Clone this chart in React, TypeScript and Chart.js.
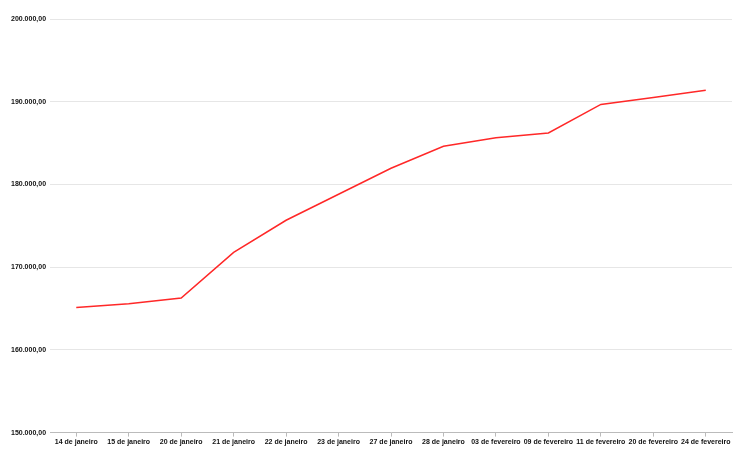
import React, { useEffect, useRef } from "react";
import { Chart, registerables } from "chart.js";

Chart.register(...registerables);

const categories = [
  "14 de janeiro",
  "15 de janeiro",
  "20 de janeiro",
  "21 de janeiro",
  "22 de janeiro",
  "23 de janeiro",
  "27 de janeiro",
  "28 de janeiro",
  "03 de fevereiro",
  "09 de fevereiro",
  "11 de fevereiro",
  "20 de fevereiro",
  "24 de fevereiro",
];

const values = [
  165130, 165580, 166260, 171790, 175670, 178810, 181960, 184620, 185630,
  186230, 189670, 190520, 191400,
];

const yMin = 150000;
const yMax = 200000;
const yStep = 10000;

const fmt = new Intl.NumberFormat("pt-BR", {
  minimumFractionDigits: 2,
  maximumFractionDigits: 2,
});

export default function App() {
  const ref = useRef<HTMLCanvasElement | null>(null);

  useEffect(() => {
    document.body.style.margin = "0";
    const canvas = ref.current;
    if (!canvas) return;
    const chart = new Chart(canvas, {
      type: "line",
      data: {
        labels: categories,
        datasets: [
          {
            data: values,
            borderColor: "rgb(255, 40, 40)",
            backgroundColor: "rgb(255, 40, 40)",
            borderWidth: 1.5,
            pointRadius: 0,
            tension: 0,
            fill: false,
          },
        ],
      },
      options: {
        animation: false,
        responsive: false,
        maintainAspectRatio: false,
        layout: { padding: { top: 19, right: 18, bottom: 9, left: 7 } },
        plugins: {
          legend: { display: false },
          tooltip: { enabled: false },
        },
        scales: {
          x: {
            offset: true,
            grid: {
              offset: false,
              drawOnChartArea: false,
              drawTicks: true,
              tickLength: 4,
              color: "#bbbbbb",
            },
            border: { display: true, color: "#bbbbbb" },
            ticks: {
              autoSkip: false,
              maxRotation: 0,
              padding: 1,
              color: "#111111",
              font: { family: "Liberation Sans, Arial", size: 7, weight: "bold" },
            },
          },
          y: {
            min: yMin,
            max: yMax,
            grid: { color: "#e6e6e6", drawTicks: false },
            border: { display: false },
            ticks: {
              stepSize: yStep,
              padding: 4,
              color: "#111111",
              font: { family: "Liberation Sans, Arial", size: 7, weight: "bold" },
              callback: (v: any) => fmt.format(Number(v)),
            },
          },
        },
      },
    });
    return () => chart.destroy();
  }, []);

  return (
    <div style={{ width: 750, height: 456 }}>
      <canvas ref={ref} width={750} height={456} style={{ display: "block" }} />
    </div>
  );
}
